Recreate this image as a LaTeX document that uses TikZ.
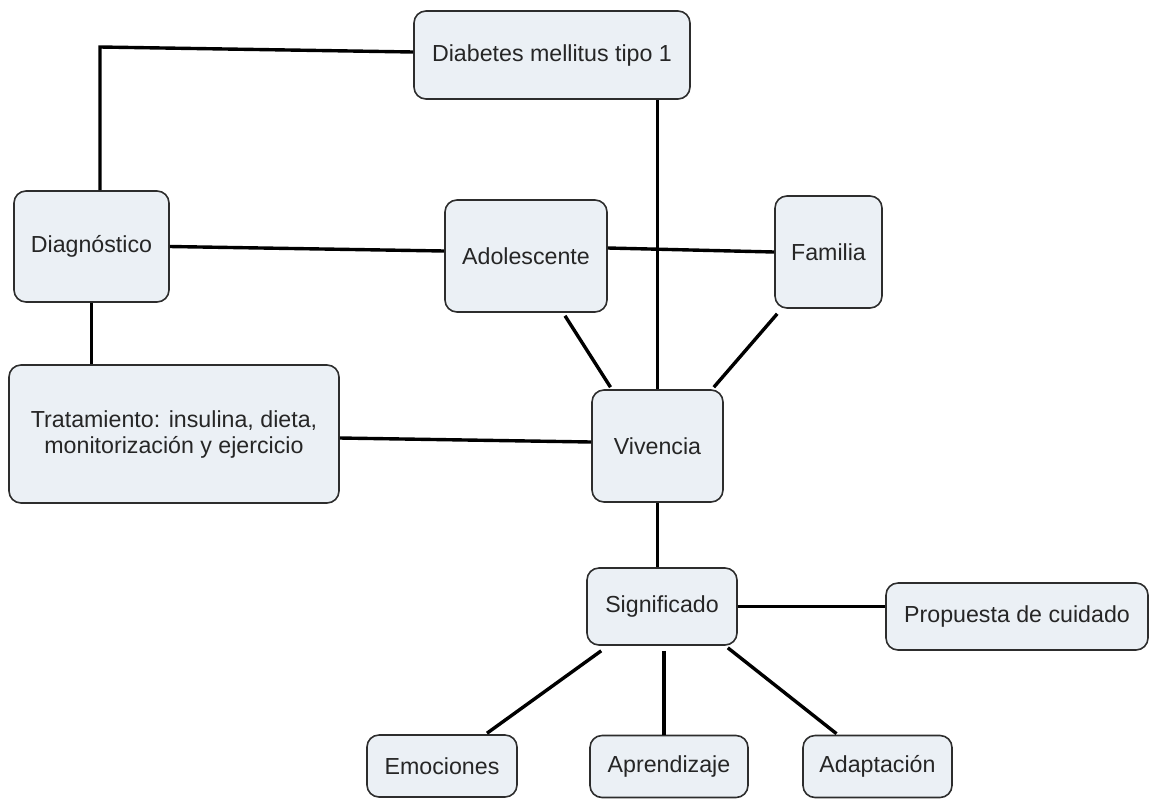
\documentclass[tikz,border=0pt]{standalone}
\usepackage{fontspec}
\setmainfont{Liberation Sans}
\usepackage{tikz}
\usetikzlibrary{calc}
\definecolor{boxfill}{RGB}{235,240,245}
\definecolor{boxline}{RGB}{45,45,45}
\tikzset{
  concept/.style={draw=boxline, fill=boxfill, line width=0.8pt, rounded corners=6pt,
                  inner sep=0pt, align=center, text=black!85,
                  font=\fontsize{11.6}{13}\selectfont},
  link/.style   ={black, line width=1.7pt},
}

\begin{document}
\begin{tikzpicture}[x=0.5pt,y=-0.5pt]
  \useasboundingbox (0,0) rectangle (1149,798);
  \node[concept, minimum width=138pt, minimum height=44pt]   (diab) at (552,55)      {Diabetes mellitus tipo 1};
  \node[concept, minimum width=77.5pt, minimum height=55.5pt](diag) at (91.5,246.5)  {Diagnóstico};
  \node[concept, minimum width=81pt, minimum height=56pt]    (adol) at (526,256)     {Adolescente};
  \node[concept, minimum width=53.5pt, minimum height=56pt]  (fam)  at (828.5,252)   {Familia};
  \node[concept, minimum width=165pt, minimum height=69pt]   (trat) at (174,434)     {Tratamiento: insulina, dieta,\\monitorización y ejercicio};
  \node[concept, minimum width=65.5pt, minimum height=56pt]  (viv)  at (657.5,446)   {Vivencia};
  \node[concept, minimum width=75pt, minimum height=38.5pt]  (sig)  at (662,606.5)   {Significado};
  \node[concept, minimum width=131pt, minimum height=33.5pt] (prop) at (1017,616.5)  {Propuesta de cuidado};
  \node[concept, minimum width=75pt, minimum height=31pt]    (emo)  at (442,766)     {Emociones};
  \node[concept, minimum width=79pt, minimum height=31pt]    (apr)  at (669,766.5)   {Aprendizaje};
  \node[concept, minimum width=74.5pt, minimum height=31pt]  (adap) at (877.5,766.5) {Adaptación};
  \coordinate (bend) at (100,47);
  \draw[link] ($(diab.west)+(0,-3)$) -- (bend) -- (bend |- diag.north);
  \draw[link] (diab.south -| viv.north) -- (viv.north);
  \draw[link] (diag.east) -- ($(adol.west)+(0,-5)$);
  \draw[link] ($(adol.east)+(0,-8)$) -- (fam.west);
  \draw[link] (diag.south) -- (diag.south |- trat.north);
  \draw[link] ($(trat.east)+(0,4)$) -- ($(viv.west)+(0,-4)$);
  \draw[link] ($(adol.south)+(39,3)$) -- ($(viv.north)+(-47,-2)$);
  \draw[link] ($(fam.south west)+(3,5)$) -- ($(viv.north east)+(-10,-2)$);
  \draw[link] (viv.south) -- (viv.south |- sig.north);
  \draw[link] (sig.east) -- (sig.east -| prop.west);
  \draw[link] ($(sig.south west)+(15,5)$) -- ($(emo.north)+(45,-1)$);
  \draw[link] ($(sig.south)+(2,5)$) -- ($(apr.north)+(-5,0)$);
  \draw[link] ($(sig.south east)+(-10,2)$) -- ($(adap.north)+(-41,-1)$);
\end{tikzpicture}
\end{document}
